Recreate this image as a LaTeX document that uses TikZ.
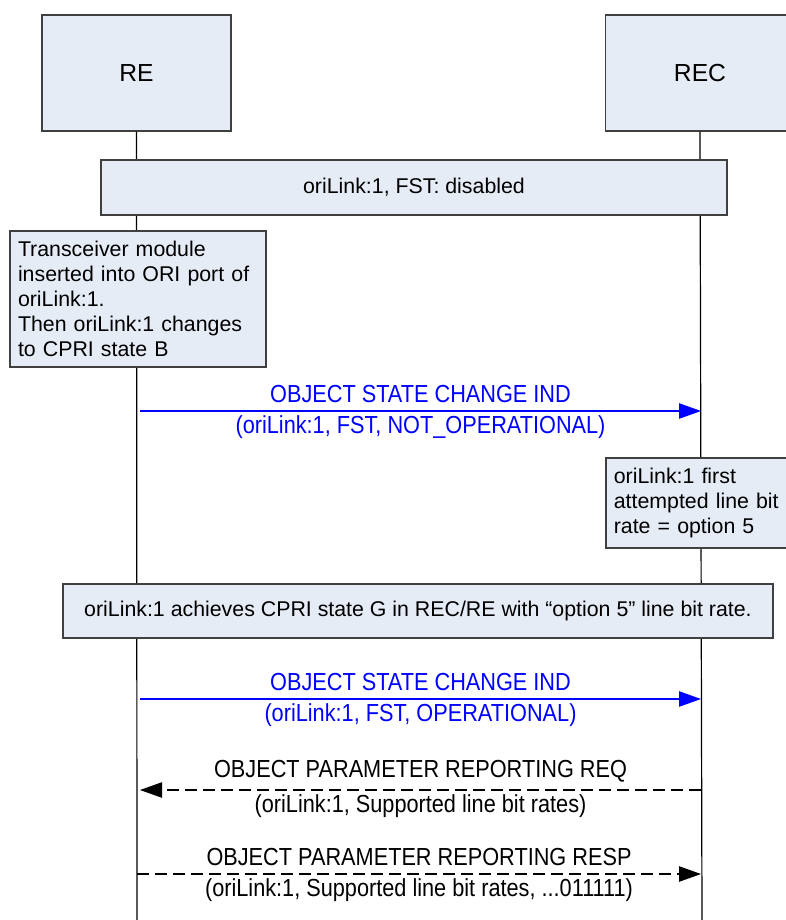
\documentclass[tikz,border=0pt]{standalone}
\usepackage{fontspec}
\setmainfont{Liberation Sans}
\newfontfamily\narrowfont{Liberation Sans}[FakeStretch=0.88]
\usetikzlibrary{arrows.meta}
\definecolor{boxfill}{HTML}{E6ECF6}
\definecolor{boxline}{HTML}{404040}

\begin{document}
\begin{tikzpicture}[x=0.75pt,y=-0.75pt,
  box/.style={draw=boxline,fill=boxfill,line width=0.8pt,inner sep=0pt,align=center},
  entity/.style={box,minimum width=141.75pt,minimum height=87pt,font=\fontsize{18.5}{22}\selectfont},
  note/.style={box,font=\fontsize{16}{18.75}\selectfont},
  life/.style={draw=black,line width=0.9pt},
  msg/.style={-{Triangle[length=16.5pt,width=11.5pt]},line width=1pt},
  ind/.style={msg,draw=blue,fill=blue,text=blue},
  req/.style={msg,dash pattern=on 9pt off 4.5pt},
  lbl/.style={font=\narrowfont\fontsize{18.5}{22}\selectfont,inner sep=0pt},
  >=latex]
  \useasboundingbox (0,0) rectangle (785,920);
  % entities and their lifelines
  \node[entity] (re) at (136.5,73) {RE};
  \node[entity] (rec) at (700,73) {REC};
  \coordinate (reend) at (137,920);
  \coordinate (recend) at (702,920);
  \draw[life] (re.south) -- (reend);
  \draw[life] (rec.south) -- (recend);
  % notes
  \node[note,minimum width=469.5pt,minimum height=41.25pt] (disabled) at (414,187.5)
    {oriLink:1, FST: disabled};
  \node[note,minimum width=192pt,minimum height=102pt,text width=180pt,align=left] (insert) at (138,299)
    {Transceiver module\\inserted into ORI port of\\oriLink:1.\\Then oriLink:1 changes\\to CPRI state B};
  \node[note,minimum width=141.75pt,minimum height=67.5pt,text width=130pt,align=left] (first) at (700.5,503)
    {oriLink:1 first\\attempted line bit\\rate = option 5};
  \node[note,minimum width=532.5pt,minimum height=40.5pt] (achieve) at (418,611)
    {oriLink:1 achieves CPRI state G in REC/RE with “option 5\symbol{34} line bit rate.};
  % messages
  \coordinate (m1a) at (140,411);
  \coordinate (m1b) at (701,411);
  \draw[ind] (m1a) -- (m1b)
    node[lbl,midway,above=5.5pt] {OBJECT STATE CHANGE IND}
    node[lbl,midway,below=3pt] {(oriLink:1, FST, NOT\_OPERATIONAL)};
  \coordinate (m2a) at (140,699);
  \coordinate (m2b) at (701,699);
  \draw[ind] (m2a) -- (m2b)
    node[lbl,midway,above=5.5pt] {OBJECT STATE CHANGE IND}
    node[lbl,midway,below=3pt] {(oriLink:1, FST, OPERATIONAL)};
  \coordinate (m3a) at (701,790);
  \coordinate (m3b) at (140,790);
  \draw[req] (m3a) -- (m3b)
    node[lbl,midway,above=5.5pt] {OBJECT PARAMETER REPORTING REQ}
    node[lbl,midway,below=3pt] {(oriLink:1, Supported line bit rates)};
  \coordinate (m4a) at (137,874);
  \coordinate (m4b) at (701,874);
  \draw[req] (m4a) -- (m4b)
    node[lbl,midway,above=5.5pt] {OBJECT PARAMETER REPORTING RESP}
    node[lbl,midway,below=3pt] {(oriLink:1, Supported line bit rates, ...011111)};
\end{tikzpicture}
\end{document}
